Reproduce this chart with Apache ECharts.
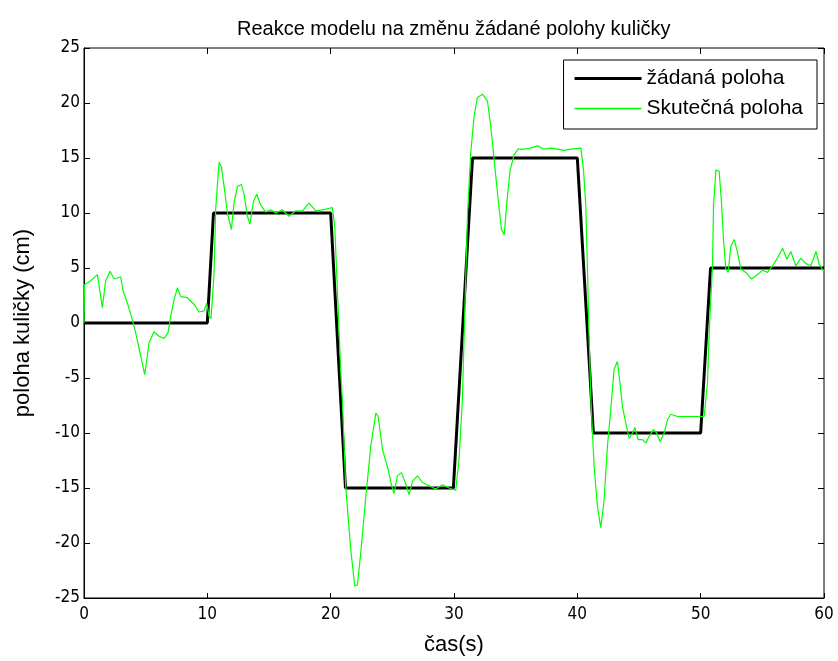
<!DOCTYPE html>
<html>
<head>
<meta charset="utf-8">
<script src="https://cdn.jsdelivr.net/npm/echarts@6/dist/echarts.min.js"></script>
<style>
html, body { margin: 0; padding: 0; background: #fff; }
#chart { width: 838px; height: 661px; }
</style>
</head>
<body>
<div id="chart"></div>
<script>
var NARROW = '"DejaVu Sans Condensed", sans-serif';
var FONT = '"Liberation Sans", Arial, sans-serif';

// desired position (step reference)
var refTime = [0, 10, 10.5, 20, 21.2, 29.95, 31.5, 40, 41.3, 50, 50.8, 60];
var refPos  = [0, 0, 10, 10, -15, -15, 15, 15, -10, -10, 5, 5];

// measured position
var measTime = [0, 0.05, 0.5, 1.08, 1.3, 1.49, 1.75, 2.11, 2.44, 2.98, 3.15, 3.52, 3.92, 4.19, 4.6, 4.92, 5.14, 5.27, 5.68, 6.08,
  6.49, 6.81, 7.03, 7.3, 7.57, 7.84, 8.38, 8.92, 9.33, 9.73, 9.95, 10.14, 10.3, 10.54, 10.68, 10.95, 11.14, 11.36, 11.63, 11.95,
  12.17, 12.44, 12.76, 12.98, 13.25, 13.46, 13.73, 14.0, 14.33, 14.73, 15.14, 15.54, 16.08, 16.62, 17.17, 17.71, 18.25, 18.79, 19.47, 20.14,
  20.33, 20.6, 20.82, 20.95, 21.22, 21.63, 21.95, 22.17, 22.44, 22.85, 23.25, 23.66, 23.85, 24.2, 24.66, 24.94, 25.14, 25.41, 25.74, 26.01,
  26.36, 26.63, 27.04, 27.44, 27.98, 28.52, 29.06, 29.6, 30.14, 30.41, 30.68, 30.9, 31.1, 31.36, 31.63, 31.9, 32.31, 32.71, 32.98, 33.25,
  33.58, 33.85, 34.07, 34.28, 34.55, 34.88, 35.2, 35.69, 36.23, 36.77, 37.31, 37.85, 38.4, 38.94, 39.48, 40.29, 40.5, 40.69, 40.8, 40.96,
  41.1, 41.36, 41.63, 41.9, 42.17, 42.44, 42.71, 42.98, 43.25, 43.39, 43.66, 43.93, 44.2, 44.47, 44.66, 44.93, 45.28, 45.55, 45.82, 46.17,
  46.44, 46.71, 47.04, 47.31, 47.58, 48.12, 48.66, 49.2, 49.74, 50.28, 50.55, 50.69, 50.82, 50.96, 51.04, 51.23, 51.5, 51.69, 51.85, 52.04,
  52.23, 52.45, 52.72, 52.99, 53.26, 53.66, 54.12, 54.61, 55.02, 55.42, 55.83, 56.23, 56.64, 56.99, 57.31, 57.72, 58.13, 58.53, 58.94, 59.35,
  59.62, 60];
var measPos = [0, 3.5, 3.8, 4.4, 2.8, 1.4, 3.8, 4.7, 4.0, 4.2, 3.0, 1.8, 0.3, -0.9, -3.0, -4.7, -3.0, -1.8, -0.8, -1.2,
  -1.4, -0.9, 0.6, 2.1, 3.2, 2.4, 2.3, 1.7, 1.0, 1.1, 1.8, 0.6, 0.4, 4.4, 10.4, 14.6, 14.2, 12.4, 10.0, 8.5,
  11.0, 12.4, 12.6, 11.7, 9.7, 9.0, 11.0, 11.7, 10.7, 10.1, 10.3, 10.0, 10.3, 9.7, 10.2, 10.2, 10.9, 10.2, 10.3, 10.5,
  8.8, 1.5, -4.5, -7.0, -14.9, -20.6, -23.9, -23.8, -20.9, -15.8, -11.2, -8.2, -8.5, -11.5, -13.3, -14.8, -15.5, -13.9, -13.6, -14.4,
  -15.6, -14.4, -13.9, -14.5, -14.8, -15.1, -14.7, -15.0, -15.2, -12.4, -7.0, 2.1, 10.0, 15.5, 18.8, 20.5, 20.8, 20.2, 17.9, 14.9,
  11.2, 8.5, 8.0, 10.9, 13.9, 15.3, 15.8, 15.8, 15.9, 16.1, 15.8, 15.9, 15.8, 15.7, 15.8, 15.9, 13.9, 10.6, 5.8, -1.5,
  -7.0, -13.0, -16.7, -18.6, -16.1, -11.2, -7.9, -4.2, -3.5, -4.8, -7.6, -9.1, -10.5, -10.0, -9.5, -10.6, -10.6, -10.9, -10.3, -9.7,
  -10.0, -10.8, -10.0, -8.8, -8.3, -8.5, -8.5, -8.5, -8.5, -8.5, -5.5, -0.9, 2.1, 5.2, 10.6, 13.9, 13.8, 10.9, 7.6, 4.9,
  4.6, 7.0, 7.6, 6.4, 4.9, 4.6, 4.0, 4.4, 4.8, 4.6, 5.2, 5.9, 6.8, 5.8, 6.5, 5.2, 5.9, 5.4, 5.2, 6.5,
  5.3, 4.7];

var seriesNames = ['žádaná poloha', 'Skutečná poloha'];

function pairs(xs, ys) {
    var out = [];
    for (var i = 0; i < xs.length; i++) out.push([xs[i], ys[i]]);
    return out;
}

var chart = echarts.init(document.getElementById('chart'));

var axisLine = { show: true, onZero: false, lineStyle: { color: '#000', width: 1 } };
var nameStyle = { color: '#000', fontFamily: FONT, fontSize: 22 };
// inward tick marks on both sides of the box, done with dashed split lines
// (grid is 740 x 551 px, tick length 6)
var xTicks = { show: true, lineStyle: { color: '#000', width: 1, type: [6, 539, 6, 200] } };
var yTicks = { show: true, lineStyle: { color: '#000', width: 1, type: [6, 728, 6, 200] } };

option = {
    backgroundColor: '#fff',
    animation: false,
    title: {
        text: 'Reakce modelu na změnu žádané polohy kuličky',
        left: 232,
        top: 14,
        textStyle: { color: '#000', fontFamily: FONT, fontSize: 20, fontWeight: 'normal' }
    },
    legend: {
        data: [
            { name: seriesNames[0], icon: 'path://M0,0H67V3H0Z' },
            { name: seriesNames[1], icon: 'path://M0,0H67V1.5H0Z' }
        ],
        orient: 'vertical',
        right: 21,
        top: 60,
        padding: [8, 14, 10, 11],
        itemWidth: 67,
        itemHeight: 16,
        itemGap: 9,
        symbolKeepAspect: true,
        borderColor: '#000',
        borderWidth: 1,
        backgroundColor: '#fff',
        textStyle: { color: '#000', fontFamily: FONT, fontSize: 21 }
    },
    grid: { left: 84, right: 14, top: 48, bottom: 62, containLabel: false, show: true, borderColor: '#000', borderWidth: 1 },
    xAxis: {
        type: 'value', min: 0, max: 60, interval: 10,
        name: 'čas(s)', nameLocation: 'middle', nameGap: 36,
        nameTextStyle: nameStyle,
        axisLine: axisLine, axisTick: { show: false },
        axisLabel: { color: '#000', fontFamily: NARROW, fontSize: 17, margin: 8 },
        splitLine: xTicks
    },
    yAxis: {
        type: 'value', min: -25, max: 25, interval: 5,
        name: 'poloha kuličky (cm)', nameLocation: 'middle', nameGap: 50,
        nameTextStyle: nameStyle,
        axisLine: axisLine, axisTick: { show: false },
        axisLabel: { color: '#000', fontFamily: NARROW, fontSize: 17, margin: 4 },
        splitLine: yTicks
    },
    series: [
        {
            name: seriesNames[0],
            type: 'line',
            symbol: 'none',
            data: pairs(refTime, refPos),
            lineStyle: { color: '#000', width: 3 },
            itemStyle: { color: '#000' }
        },
        {
            name: seriesNames[1],
            type: 'line',
            symbol: 'none',
            data: pairs(measTime, measPos),
            lineStyle: { color: '#00ff00', width: 1.2 },
            itemStyle: { color: '#00ff00' }
        }
    ]
};
chart.setOption(option);
</script>
</body>
</html>
